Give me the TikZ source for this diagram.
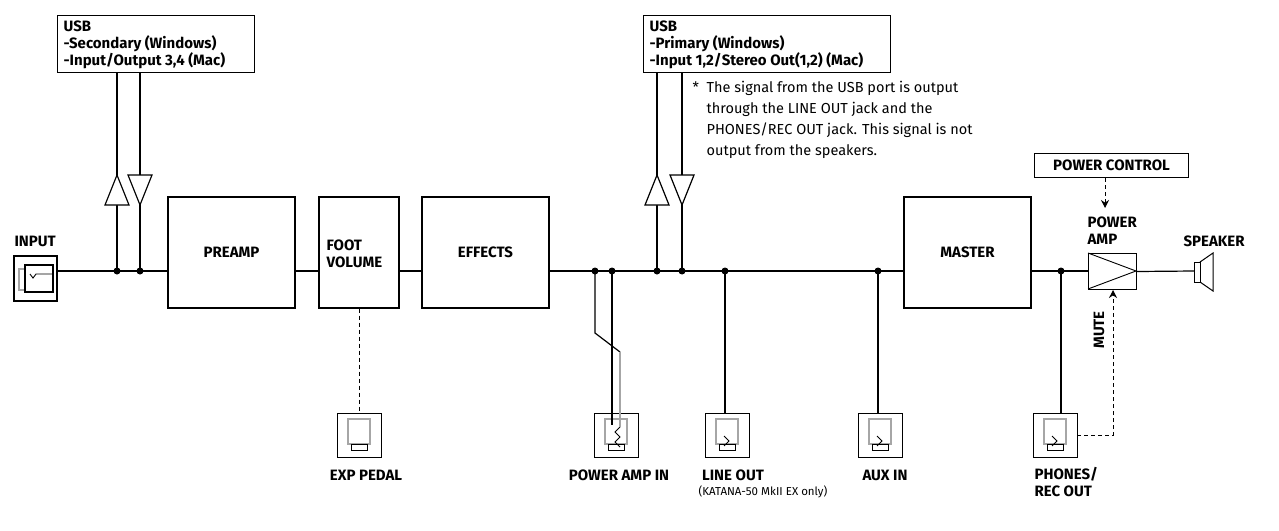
\documentclass[tikz,border=0pt]{standalone}
\usepackage{fontspec}
\setmainfont{Fira Sans}
\usetikzlibrary{arrows.meta}
\begin{document}
\begin{tikzpicture}[x=1pt,y=-1pt,line width=1.2pt,
  lbl/.style={font=\fontsize{15}{17}\selectfont\bfseries,inner sep=0,align=left},
  blk/.style={draw,inner sep=0},
  dot/.style={circle,fill,inner sep=0,minimum size=7pt},
  dsh/.style={dash pattern=on 4pt off 3pt,line width=1pt},
  jack/.pic={
    \draw[line width=1pt] (-22,0) rectangle (22,44);
    \draw[gray!70,line width=1.5pt] (-11,6) rectangle (11,31);
    \draw[line width=1pt] (-8,31) rectangle (8,37);
  }]
\useasboundingbox (0,0) rectangle (1279,530);
% input jack
\node[blk,minimum width=43,minimum height=45] (in) at (35.5,278.5) {};
\draw[gray!70,line width=1.5pt] (19,269) rectangle (25,290);
\draw[line width=1.2pt] (25,265) rectangle (53,292);
\draw[line width=0.9pt] (30,274)--(33,278)--(36,274)--(53,274);
\node[lbl,anchor=south west] at (14,247) {INPUT};
% main line
\coordinate (d1) at (117,271); \coordinate (d2) at (140,271);
\node[blk,minimum width=127,minimum height=111] (pre) at (231.5,252.5) {};
\node[lbl] at (231.5,252) {PREAMP};
\node[blk,minimum width=80,minimum height=111] (foot) at (359,252.5) {};
\node[lbl,anchor=west] at (326,254) {FOOT\\VOLUME};
\node[blk,minimum width=127,minimum height=111] (eff) at (485.5,252.5) {};
\node[lbl] at (485.5,252) {EFFECTS};
\node[blk,minimum width=127,minimum height=111] (mas) at (967.5,252.5) {};
\node[lbl] at (967.5,252) {MASTER};
\draw (in.east|-d1) -- (pre.west|-d1);
\draw (pre.east|-d1) -- (foot.west|-d1);
\draw (foot.east|-d1) -- (eff.west|-d1);
\draw (eff.east|-d1) -- (mas.west|-d1);
% USB 1
\node[blk,minimum width=197,minimum height=57,anchor=north west] (u1) at (57,15) {};
\node[lbl,anchor=north west] at (63,20) {USB\\-Secondary (Windows)\\-Input/Output 3,4 (Mac)};
\draw (117,72) -- (d1); \draw (140,72) -- (d2);
\filldraw[fill=white] (117,175) -- (105,205) -- (129,205) -- cycle;
\filldraw[fill=white] (140,205) -- (128,175) -- (152,175) -- cycle;
% USB 2
\node[blk,minimum width=247,minimum height=57,anchor=north west] (u2) at (643,15) {};
\node[lbl,anchor=north west] at (649,20) {USB\\-Primary (Windows)\\-Input 1,2/Stereo Out(1,2) (Mac)};
\coordinate (d5) at (657,271); \coordinate (d6) at (682,271);
\draw (657,72) -- (d5); \draw (682,72) -- (d6);
\filldraw[fill=white] (657,175) -- (645,205) -- (669,205) -- cycle;
\filldraw[fill=white] (682,205) -- (670,175) -- (694,175) -- cycle;
\node[anchor=north west,inner sep=0,align=left,font=\fontsize{14.5}{21}\selectfont] at (692,81)
 {*\ \ The signal from the USB port is output\\\phantom{*}\ \ through the LINE OUT jack and the\\\phantom{*}\ \ PHONES/REC OUT jack. This signal is not\\\phantom{*}\ \ output from the speakers.};
% dots
\coordinate (d3) at (595,271); \coordinate (d4) at (612,271);
\coordinate (d7) at (725,271); \coordinate (d8) at (878,271); \coordinate (d9) at (1061,271);
\foreach \d in {d1,d2,d3,d4,d5,d6,d7,d8,d9} \node[dot] at (\d) {};
% jacks
\pic at (616,413) {jack};
\pic at (727,413) {jack}; \coordinate (jline) at (725,413);
\pic at (880,413) {jack}; \coordinate (jaux) at (878,413);
\pic at (1055,413) {jack}; \coordinate (jph) at (1061,413);
\pic at (359,413) {jack}; \coordinate (jexp) at (359,413);
\draw[line width=0.9pt] (620,427) -- (615,432) -- (620,437) -- (615,442) -- (620,447);
\foreach \x in {727,880,1055} \draw[line width=0.9pt] (\x-3,436)--(\x+2,441)--(\x-3,446);
\draw[dsh] (foot.south) -- (jexp);
\draw (d4) -- (612,425);
\draw (d3) -- (595,333) -- (620,352);
\draw[gray!70,line width=1.5pt] (620,352) -- (620,427);
\draw (d7) -- (jline); \draw (d8) -- (jaux); \draw (d9) -- (jph);
% labels
\node[lbl] at (366,475) {EXP PEDAL};
\node[lbl] at (619,475) {POWER AMP IN};
\node[lbl] at (733,475) {LINE OUT};
\node[font=\fontsize{11.5}{12}\selectfont,inner sep=0] at (763,492) {(KATANA-50 MkII EX only)};
\node[lbl] at (885,475) {AUX IN};
\node[lbl,anchor=north west] at (1034,467) {PHONES/\\REC OUT};
% power amp
\node[blk,line width=1pt,minimum width=48,minimum height=36,anchor=north west] (pa) at (1088,253) {};
\draw[line width=0.9pt] (1088,253) -- (1136,271) -- (1088,289);
\draw (mas.east|-d1) -- (pa.west|-d1);
\draw[line width=1pt] (1194,262) rectangle (1200,282);
\draw[line width=1pt] (1200,262) -- (1213,253) -- (1213,291) -- (1200,282);
\coordinate (spk) at (1194,271);
\draw (pa.east) -- (spk);
\node[lbl,anchor=south west] at (1087,245) {POWER\\AMP};
\node[lbl,anchor=south west] at (1183,247) {SPEAKER};
\node[blk,line width=1pt,minimum width=154,minimum height=24,anchor=north west] (pc) at (1034,153) {};
\node[lbl] at (pc) {POWER CONTROL};
\draw[dsh,-{Stealth[length=8pt,width=8pt]}] (pc.south-|1105,0) -- (1105,208);
\draw[dsh,-{Stealth[length=8pt,width=8pt]}] (1077,435) -- (1113,435) -- (1113,290);
\node[lbl,rotate=90] at (1099,330) {MUTE};
\end{tikzpicture}
\end{document}
